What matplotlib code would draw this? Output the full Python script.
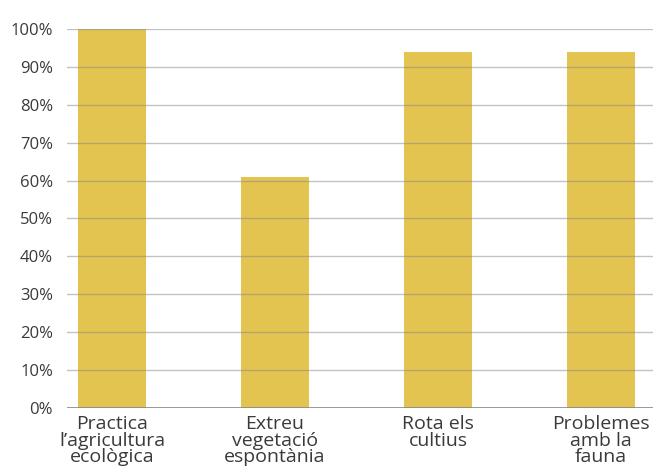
import matplotlib.pyplot as plt
import numpy as np

categories = ["Practica\nl’agricultura\necològica", "Extreu\nvegetació\nespontània",
              "Rota els\ncultius", "Problemes\namb la\nfauna"]
values = [100, 61, 94, 94]
yticks = [0, 10, 20, 30, 40, 50, 60, 70, 80, 90, 100]

plt.rcParams['font.family'] = ['Open Sans', 'DejaVu Sans']

fig = plt.figure(figsize=(6.53, 4.72), dpi=100)
ax = fig.add_axes([0.1026, 0.1356, 0.8974, 0.803])

x = np.arange(len(categories))
ax.bar(x, values, width=0.42, color='#e3c451', zorder=1)

for t in yticks[1:]:
    ax.axhline(t, color='#888888', alpha=0.5, lw=1, zorder=2)
ax.axhline(0, color='#888888', lw=1.2, zorder=3)

ax.set_xlim(-0.276, 3.319)
ax.set_ylim(0, 100)
ax.set_yticks(yticks)
ax.set_yticklabels([f"{t}%" for t in yticks])
ax.set_xticks(x)
ax.set_xticklabels(categories, linespacing=0.9)

ax.tick_params(axis='y', length=0, pad=10, labelsize=12, labelcolor='#3a3a3a')
ax.tick_params(axis='x', length=0, pad=5, labelsize=14, labelcolor='#3a3a3a')
for s in ax.spines.values():
    s.set_visible(False)

fig.savefig('out.png', dpi=100)
